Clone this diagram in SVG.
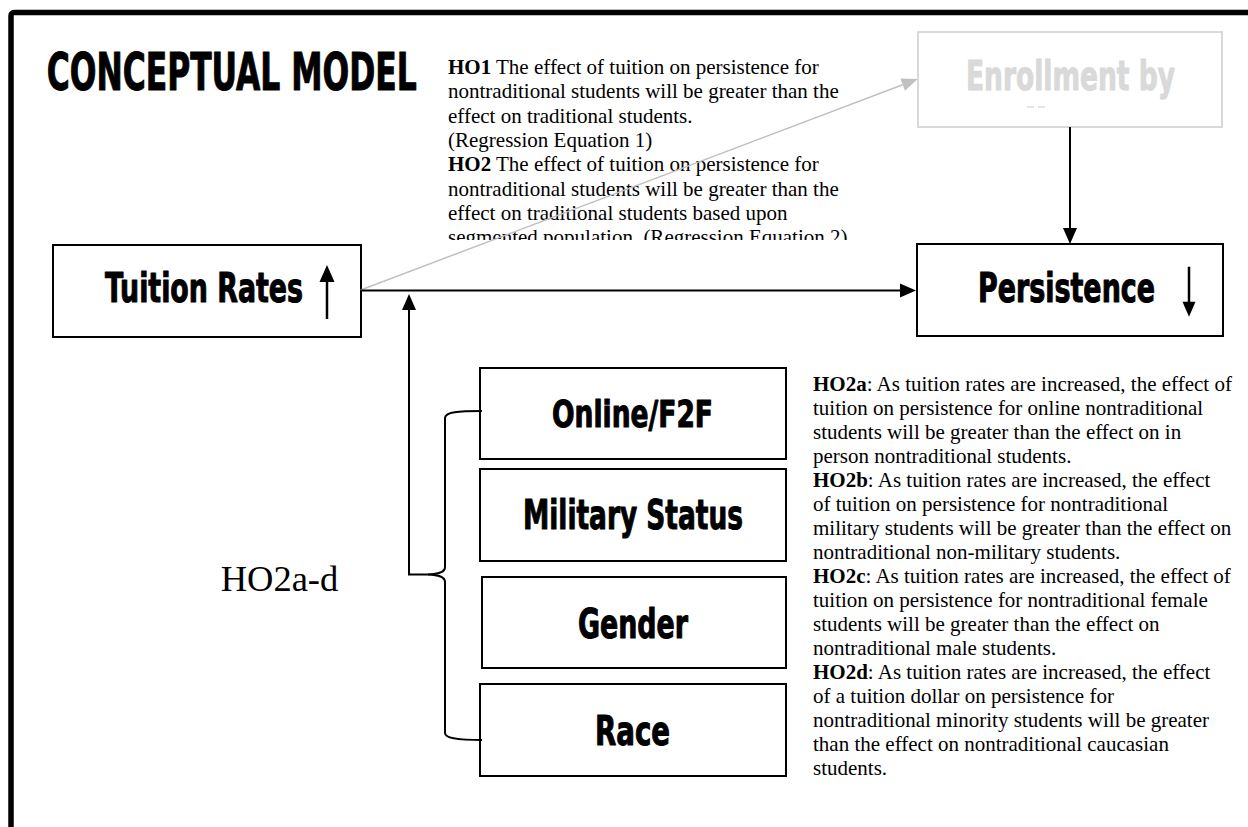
<svg xmlns="http://www.w3.org/2000/svg" width="1248" height="827" viewBox="0 0 1248 827">
<defs>
<style>
.imp{font-family:"Liberation Sans Narrow","DejaVu Sans Condensed","Liberation Sans",sans-serif;font-weight:700;fill:#000;stroke:#000;stroke-width:1;stroke-linejoin:round}
.box{fill:#fff;stroke:#000;stroke-width:2}
.ser{font-family:"Liberation Serif","Times New Roman",serif;font-size:21px;fill:#000}
.b{font-weight:700}
.ln{fill:none;stroke:#000;stroke-width:2}
</style>
<marker id="ah" markerUnits="userSpaceOnUse" markerWidth="16" markerHeight="14" refX="0" refY="7" orient="auto" overflow="visible"><path d="M0,0 L16,7 L0,14 Z" fill="#000"/></marker>
<marker id="ahg" markerUnits="userSpaceOnUse" markerWidth="16" markerHeight="13" refX="0" refY="6.5" orient="auto" overflow="visible"><path d="M0,0 L16,6.5 L0,13 Z" fill="#c0c0c0"/></marker>
<clipPath id="clipHO1"><rect x="440" y="50" width="430" height="190"/></clipPath>
</defs>
<rect x="0" y="0" width="1248" height="827" fill="#fff"/>
<rect x="11" y="12.5" width="1300" height="900" rx="3" fill="none" stroke="#000" stroke-width="5.5"/>

<g id="title">
<text class="imp" x="46.7" y="90" font-size="52" textLength="370" lengthAdjust="spacingAndGlyphs">CONCEPTUAL MODEL</text>
</g>

<g id="ho1-text" clip-path="url(#clipHO1)">
<text class="ser" x="448" y="74"><tspan class="b">HO1</tspan> The effect of tuition on persistence for</text>
<text class="ser" x="448" y="98.3">nontraditional students will be greater than the</text>
<text class="ser" x="448" y="122.6">effect on traditional students.</text>
<text class="ser" x="448" y="146.9">(Regression Equation 1)</text>
<text class="ser" x="448" y="171.2"><tspan class="b">HO2</tspan> The effect of tuition on persistence for</text>
<text class="ser" x="448" y="195.5">nontraditional students will be greater than the</text>
<text class="ser" x="448" y="219.8">effect on traditional students based upon</text>
<text class="ser" x="448" y="244.1">segmented population. (Regression Equation 2)</text>
</g>

<g id="enrollment">
<rect x="918" y="32" width="304" height="95" fill="#fff" stroke="#d9d9d9" stroke-width="2"/>
<text class="imp" x="966" y="90" font-size="41" textLength="209" lengthAdjust="spacingAndGlyphs" style="fill:#d9d9d9;stroke:#d9d9d9">Enrollment by</text>
<line x1="1027" y1="107" x2="1034" y2="107" stroke="#d0d0d0" stroke-width="1.2"/>
<line x1="1038" y1="107" x2="1045" y2="107" stroke="#d0d0d0" stroke-width="1.2"/>
</g>

<g id="tuition">
<rect class="box" x="53" y="245" width="308" height="92"/>
<text class="imp" x="105" y="301.7" font-size="41" textLength="198" lengthAdjust="spacingAndGlyphs">Tuition Rates</text>
<line x1="327" y1="319" x2="327" y2="280" stroke="#000" stroke-width="2.5"/>
<path d="M319.5,282 L327,265 L334.5,282 Z" fill="#000"/>
</g>

<g id="persistence">
<rect class="box" x="917" y="244" width="306" height="92"/>
<text class="imp" x="978" y="301.7" font-size="40" textLength="177" lengthAdjust="spacingAndGlyphs">Persistence</text>
<line x1="1189" y1="266.7" x2="1189" y2="303" stroke="#000" stroke-width="2.5"/>
<path d="M1182.5,301.7 L1189,316.7 L1195.5,301.7 Z" fill="#000"/>
</g>

<g id="online">
<rect class="box" x="480" y="368" width="306" height="91"/>
<text class="imp" x="552" y="427" font-size="38" textLength="161" lengthAdjust="spacingAndGlyphs">Online/F2F</text>
</g>
<g id="military">
<rect class="box" x="480" y="469" width="306" height="92"/>
<text class="imp" x="523" y="529" font-size="41" textLength="220" lengthAdjust="spacingAndGlyphs">Military Status</text>
</g>
<g id="gender">
<rect class="box" x="482" y="577" width="304" height="91"/>
<text class="imp" x="578" y="638" font-size="40" textLength="110" lengthAdjust="spacingAndGlyphs">Gender</text>
</g>
<g id="race">
<rect class="box" x="480" y="684" width="306" height="92"/>
<text class="imp" x="595" y="745" font-size="41" textLength="75" lengthAdjust="spacingAndGlyphs">Race</text>
</g>

<g id="ho2-label">
<text x="220.7" y="590.7" font-family="Liberation Serif, serif" font-size="36.5" fill="#000">HO2a-d</text>
</g>

<g id="ho2-text">
<text class="ser" x="813" y="391"><tspan class="b">HO2a</tspan>: As tuition rates are increased, the effect of</text>
<text class="ser" x="813" y="415">tuition on persistence for online nontraditional</text>
<text class="ser" x="813" y="439">students will be greater than the effect on in</text>
<text class="ser" x="813" y="463">person nontraditional students.</text>
<text class="ser" x="813" y="487"><tspan class="b">HO2b</tspan>: As tuition rates are increased, the effect</text>
<text class="ser" x="813" y="511">of tuition on persistence for nontraditional</text>
<text class="ser" x="813" y="535">military students will be greater than the effect on</text>
<text class="ser" x="813" y="559">nontraditional non-military students.</text>
<text class="ser" x="813" y="583"><tspan class="b">HO2c</tspan>: As tuition rates are increased, the effect of</text>
<text class="ser" x="813" y="607">tuition on persistence for nontraditional female</text>
<text class="ser" x="813" y="631">students will be greater than the effect on</text>
<text class="ser" x="813" y="655">nontraditional male students.</text>
<text class="ser" x="813" y="679"><tspan class="b">HO2d</tspan>: As tuition rates are increased, the effect</text>
<text class="ser" x="813" y="703">of a tuition dollar on persistence for</text>
<text class="ser" x="813" y="727">nontraditional minority students will be greater</text>
<text class="ser" x="813" y="751">than the effect on nontraditional caucasian</text>
<text class="ser" x="813" y="775">students.</text>
</g>

<g id="connectors">
<line x1="360.7" y1="290" x2="902.7" y2="84.7" stroke="#c0c0c0" stroke-width="1.5" marker-end="url(#ahg)"/>
<line x1="361" y1="290.5" x2="900" y2="290.5" class="ln" marker-end="url(#ah)"/>
<line x1="1070" y1="127" x2="1070" y2="228" class="ln" marker-end="url(#ah)"/>
<path d="M482,411 C458,411 445,412 445,418 L445,567 C445,572 440,574 428,574.5 L409,574.5 L409,310" class="ln" marker-end="url(#ah)"/>
<path d="M428,574.5 C440,575 445,577 445,582 L445,733 C445,738 456,740 482,740" class="ln"/>
</g>
</svg>
